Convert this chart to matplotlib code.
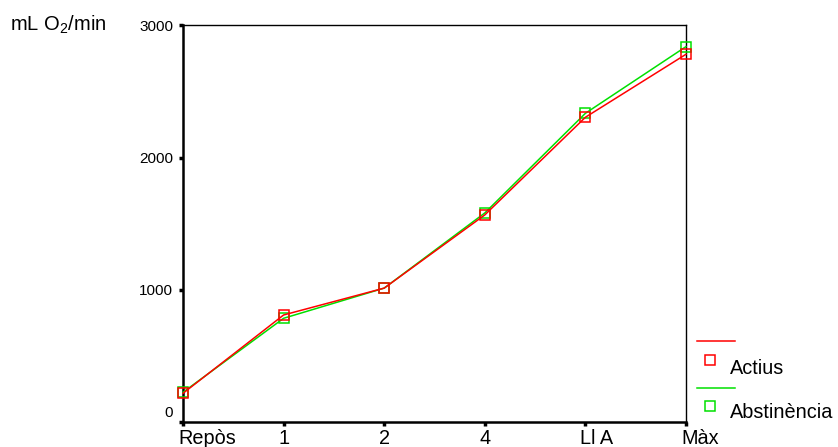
import matplotlib
matplotlib.use("Agg")
import matplotlib.pyplot as plt
import matplotlib.transforms as mtrans
from matplotlib.lines import Line2D

plt.rcParams['font.family'] = ['Liberation Sans', 'DejaVu Sans']
plt.rcParams['mathtext.default'] = 'regular'

categories = ['Repòs', '1', '2', '4', 'Ll A', 'Màx']
actius = [219, 811, 1014, 1567, 2305, 2781]
abstinencia = [227, 786, 1014, 1582, 2335, 2839]
yticks = [0, 1000, 2000, 3000]

W, H = 838, 447
fig = plt.figure(figsize=(W/100, H/100), dpi=100)
ax = fig.add_axes([183/W, 24.7/H, (686-183)/W, (421.7-24.7)/H])

x = list(range(len(categories)))
ax.plot(x, abstinencia, color='#00e000', lw=1.1, marker='s', ms=7, mfc='none',
        mec='#00e000', mew=1.1, clip_on=False, zorder=3)
ax.plot(x, actius, color='#ff0000', lw=1.1, marker='s', ms=7, mfc='none',
        mec='#ff0000', mew=1.1, clip_on=False, zorder=4)

ax.set_xlim(0, 5)
ax.set_ylim(0, 3000)
ax.set_xticks(x)
ax.set_xticklabels(categories, fontsize=14.3, ha='left')
ax.set_yticks(yticks)
ax.set_yticklabels([str(v) for v in yticks], fontsize=11)
ax.tick_params(axis='both', length=3, width=2.5, direction='out', color='black')
ax.tick_params(axis='x', pad=2)
ax.tick_params(axis='y', pad=4)
for s in ['left', 'bottom']:
    ax.spines[s].set_linewidth(1.8)
for s in ['top', 'right']:
    ax.spines[s].set_linewidth(1.0)

# shift x labels so they start just left of the tick
shift = mtrans.ScaledTranslation(-5/100, 0, fig.dpi_scale_trans)
for lab in ax.get_xticklabels():
    lab.set_transform(lab.get_transform() + shift)
# raise the "0" label above its tick
up = mtrans.ScaledTranslation(0, 10.5/100, fig.dpi_scale_trans)
lab0 = ax.get_yticklabels()[0]
lab0.set_transform(lab0.get_transform() + up)

fig.text(10/W, 1 - 25/H, 'mL O$_2$/min', fontsize=14.5, va='center', ha='left')

# legend (manual)
def fx(px):
    return px / W
def fy(py):
    return 1 - py / H

fig.add_artist(Line2D([fx(697), fx(735)], [fy(341), fy(341)], color='#ff0000', lw=1.1))
fig.add_artist(Line2D([fx(710)], [fy(360)], color='#ff0000', marker='s', ms=6.5,
                      mfc='none', mec='#ff0000', mew=1.1, ls='none'))
fig.text(fx(730), fy(368), 'Actius', fontsize=14.3, va='center', ha='left')
fig.add_artist(Line2D([fx(697), fx(735)], [fy(388), fy(388)], color='#00e000', lw=1.1))
fig.add_artist(Line2D([fx(710)], [fy(406)], color='#00e000', marker='s', ms=6.5,
                      mfc='none', mec='#00e000', mew=1.1, ls='none'))
fig.text(fx(730), fy(413), 'Abstinència', fontsize=14.3, va='center', ha='left')

fig.savefig('out.png', dpi=100)
